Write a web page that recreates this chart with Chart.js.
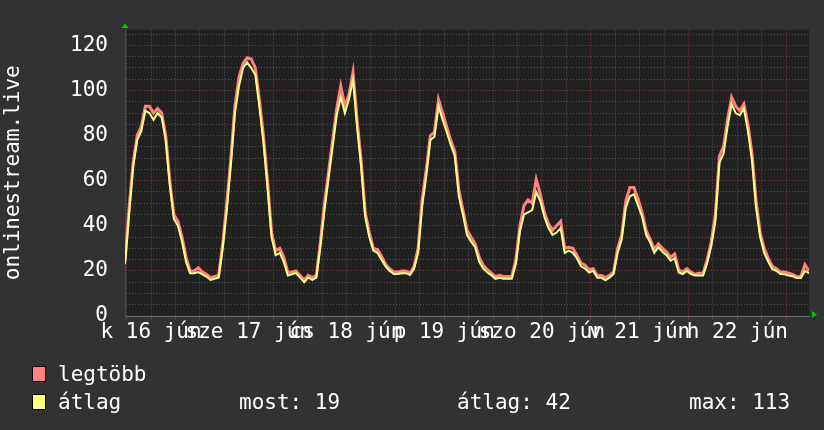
<!DOCTYPE html>
<html>
<head>
<meta charset="utf-8">
<script src="https://cdn.jsdelivr.net/npm/chart.js@4/dist/chart.umd.min.js"></script>
<style>
  html, body { margin: 0; padding: 0; background: #323232; }
  #wrap { position: relative; width: 824px; height: 430px; overflow: hidden; }
  canvas { position: absolute; left: 0; top: 0; }
  .leg { position: absolute; font-family: "DejaVu Sans Mono", monospace; font-size: 21px; line-height: 24px; color: #ffffff; white-space: pre; }
  .box { position: absolute; width: 12px; height: 14px; border: 1px solid #000000; }
</style>
</head>
<body>
<div id="wrap">
  <canvas id="c" width="824" height="430"></canvas>
</div>
<script>
// ---------------- data ----------------
const axisTitle = "onlinestream.live";
// hours since 16 Jun 00:00 of the first sample, one sample per hour
const startHour = 5.6;
const stepHours = 1;
const axisMinHour = 5.6;
const axisMaxHour = 173.6;

const dayLabels = ["k 16 jún", "sze 17 jún", "cs 18 jún", "p 19 jún", "szo 20 jún", "v 21 jún", "h 22 jún"];
const xTickHours = [6,12,18,24,30,36,42,48,54,60,66,72,78,84,90,96,102,108,114,120,126,132,138,144,150,156,162,168];
const yTickValues = [0,5,10,15,20,25,30,35,40,45,50,55,60,65,70,75,80,85,90,95,100,105,110,115,120,125];
const yMax = 127;

const seriesNames = ["legtöbb", "átlag"];
const seriesColors = ["#ff8080", "#ffff80"];

// legtöbb (max)
const maxValues = [
  24, 48, 68, 80, 84, 93, 93, 90, 92, 90, 80, 60, 45, 42, 35, 26, 20, 20, 21.4, 19.5,
  18.5, 17, 17.5, 18, 32, 50, 70, 93, 106, 112, 114.5, 114, 110, 96, 80, 60, 37, 29, 30, 26,
  19.3, 19.5, 20, 18, 16, 18, 17, 18, 33, 50, 64, 78, 92, 102, 93, 98, 108, 87, 69, 46,
  37, 30, 29.5, 26.5, 23, 21, 19.5, 19.5, 20, 20, 19, 22, 30, 52, 65, 80, 81.5, 96, 90, 84,
  78, 73, 56, 47, 38, 35, 32, 26, 22.5, 20.5, 19, 17.5, 18, 17.5, 17.5, 17.5, 25, 40, 49, 51.5,
  50, 60.6, 54, 46, 41, 38, 40, 42, 30, 30.5, 30, 27, 23.5, 22.5, 20.5, 21, 18, 18, 17, 18,
  19.5, 30, 36, 51, 57, 57, 52, 46, 38, 34, 29.5, 32, 30, 28.5, 26, 27.5, 20.5, 19.5, 21, 19.5,
  18.5, 19, 19, 25, 33, 45, 71, 75, 87, 97, 93, 91, 94, 85, 72, 51, 37, 30, 25.5, 22,
  21, 19.5, 19.5, 19, 18.5, 17.5, 17.5, 22.8, 20
];
// átlag (average)
const avgValues = [
  23, 45, 66, 78, 82, 91, 90, 87, 90, 88, 78, 58, 43, 40, 33, 24, 19, 19, 19.5, 18.5,
  17.5, 16, 16.5, 17, 30, 47, 67, 90, 102, 110, 112.5, 110, 107, 93, 77, 57, 35, 27, 28, 24,
  18, 18.5, 19, 17, 15, 17, 16, 17, 31, 47, 61, 75, 89, 97, 90, 96, 105, 84, 66, 44,
  35, 29, 28, 25, 22, 20, 18.6, 18.6, 19, 19, 18.2, 21, 28, 49, 62, 78, 79.5, 93, 87, 81.7,
  76, 71, 53, 45, 36, 33, 30.5, 24, 21, 19.3, 18, 16.5, 17, 16.5, 16.5, 16.5, 23, 37.5, 45, 46,
  47, 55, 51, 44, 39, 36, 37, 39, 28, 29, 28, 25.5, 22, 21, 19.3, 20, 17, 17, 15.8, 17,
  18.6, 28, 34, 48, 53, 54, 49, 44, 36, 32.6, 28, 30.5, 28.5, 27, 24.5, 25.6, 19.3, 18.6, 20, 18.6,
  18, 18, 18, 23.5, 31, 42, 68, 72, 84, 94, 90, 89, 92, 82, 69, 48, 35, 28, 24, 20.7,
  20, 18.6, 18.5, 18, 17.6, 16.8, 16.8, 20, 19
];
const statLabels = ["most:", "átlag:", "max:"];
const statValues = [19, 42, 113];

// ---------------- chart ----------------
const FONT = '"DejaVu Sans Mono", monospace';
const toPoints = arr => arr.map((v, i) => ({ x: startHour + i * stepHours, y: v }));

const GRID_MINOR = '#565656';
const GRID_MAJOR = '#8a3838';

const bgPlugin = {
  id: 'bg',
  beforeDraw(chart) {
    const { ctx, chartArea: a } = chart;
    ctx.save();
    ctx.fillStyle = '#323232';
    ctx.fillRect(0, 0, chart.width, chart.height);
    ctx.fillStyle = '#212121';
    ctx.fillRect(a.left, a.top, a.right - a.left, a.bottom - a.top);
    ctx.restore();
  },
  afterDraw(chart) {
    const { ctx, chartArea: a } = chart;
    ctx.save();
    ctx.fillStyle = '#00c800';
    ctx.beginPath();
    ctx.moveTo(a.left - 3.5, a.top - 1.5);
    ctx.lineTo(a.left + 3.5, a.top - 1.5);
    ctx.lineTo(a.left, a.top - 6);
    ctx.closePath();
    ctx.fill();
    ctx.beginPath();
    ctx.moveTo(a.right + 3, a.bottom - 5);
    ctx.lineTo(a.right + 3, a.bottom + 2);
    ctx.lineTo(a.right + 8, a.bottom - 1.5);
    ctx.closePath();
    ctx.fill();
    ctx.restore();
  }
};

new Chart(document.getElementById('c'), {
  type: 'line',
  data: {
    datasets: [
      { label: seriesNames[0], data: toPoints(maxValues), borderColor: seriesColors[0], borderWidth: 3,
        pointRadius: 0, tension: 0, fill: false, order: 2, borderJoinStyle: 'miter' },
      { label: seriesNames[1], data: toPoints(avgValues), borderColor: seriesColors[1], borderWidth: 2,
        pointRadius: 0, tension: 0, fill: false, order: 1, borderJoinStyle: 'miter' }
    ]
  },
  options: {
    responsive: false,
    animation: false,
    events: [],
    layout: { padding: { top: 14, right: 15, left: 0, bottom: 0 } },
    plugins: { legend: { display: false }, tooltip: { enabled: false } },
    scales: {
      x: {
        type: 'linear',
        min: axisMinHour,
        max: axisMaxHour,
        afterBuildTicks: s => { s.ticks = xTickHours.map(v => ({ value: v })); },
        afterFit: s => { s.height = 114; },
        ticks: {
          autoSkip: false, maxRotation: 0, minRotation: 0, padding: 1,
          color: '#ffffff', font: { family: FONT, size: 21 },
          callback: v => ((v - 12) % 24 === 0 ? dayLabels[(v - 12) / 24] : '')
        },
        grid: {
          color: c => (c.tick && c.tick.value % 24 === 0 ? GRID_MAJOR : GRID_MINOR),
          lineWidth: 1, drawTicks: true, tickLength: 3
        },
        border: { display: true, color: '#6a6a6a', width: 1, dash: [1, 2] }
      },
      y: {
        min: 0,
        max: yMax,
        afterBuildTicks: s => { s.ticks = yTickValues.map(v => ({ value: v })); },
        afterFit: s => { s.width = 125; },
        ticks: {
          autoSkip: false, padding: 17, color: '#ffffff', font: { family: FONT, size: 21 },
          callback: v => (v % 20 === 0 ? String(v) : '')
        },
        grid: {
          color: c => (c.tick && c.tick.value === 0 ? '#6a6a6a' : (c.tick && c.tick.value % 20 === 0 ? GRID_MAJOR : GRID_MINOR)),
          lineWidth: 1, drawTicks: false
        },
        border: { display: true, color: '#4a4a4a', width: 1, dash: [1, 2] },
        title: {
          display: true, text: axisTitle, color: '#ffffff',
          font: { family: FONT, size: 21 }, padding: { top: 1, bottom: 0 }
        }
      }
    }
  },
  plugins: [bgPlugin]
});

// ---------------- legend (HTML text) ----------------
const wrap = document.getElementById('wrap');
function addEl(cls, left, top, text, bg) {
  const d = document.createElement('div');
  d.className = cls;
  d.style.left = left + 'px';
  d.style.top = top + 'px';
  if (text !== undefined) d.textContent = text;
  if (bg) d.style.background = bg;
  wrap.appendChild(d);
}
const rowTops = [362, 390];
seriesNames.forEach((name, i) => {
  addEl('box', 32, rowTops[i] + 4, undefined, seriesColors[i]);
  addEl('leg', 58, rowTops[i], name);
});
const statX = [239, 457, 689];
statLabels.forEach((lab, i) => addEl('leg', statX[i], rowTops[1], lab + ' ' + statValues[i]));
</script>
</body>
</html>
